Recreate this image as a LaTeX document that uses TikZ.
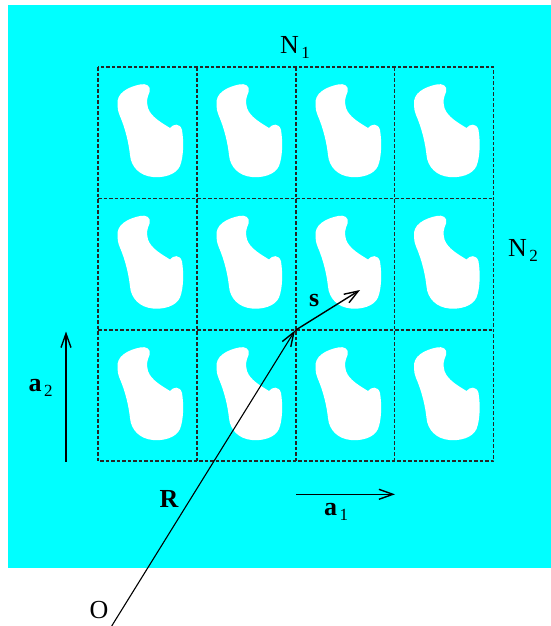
\documentclass[tikz,border=0pt]{standalone}
\usepackage{fontspec}
\setmainfont{Liberation Serif}
\usetikzlibrary{arrows.meta}
\definecolor{bgcyan}{HTML}{00FFFF}
\newcommand\mainsz{\fontsize{26}{30}\selectfont}
\newcommand\subsz{\fontsize{17}{20}\selectfont}
\newcommand\lblsub[1]{\hspace{2.5pt}\raisebox{-5pt}{\subsz #1}}
\begin{document}
\begin{tikzpicture}[x=1pt,y=-1pt,
  gridline/.style={dash pattern=on 3.5pt off 2pt, line width=1.1pt, black!85},
  vecarrow/.style={-{Straight Barb[length=14pt,width=10pt,line width=1.4pt]}, line width=1.4pt},
  lbl/.style={anchor=base west, inner sep=0pt, font=\mainsz},
  blob/.style={fill=white}]
\useasboundingbox (0,0) rectangle (551,626);
\fill[bgcyan] (7.5,5) rectangle (551,568);
% blobs
\foreach \cx in {98,197,296,394.5}{
  \foreach \cy in {67,198.5,330}{
    \fill[blob, shift={(\cx,\cy)}]
      (19.5,38) .. controls (18,26) and (30,20) .. (42,17.5)
      .. controls (48,16) and (53.5,19) .. (51.5,25)
      .. controls (49.5,30) and (48,34) .. (50,41)
      .. controls (53,50) and (64,56) .. (72,61)
      .. controls (75,57) and (82,55.5) .. (84,63)
      .. controls (86,75) and (85.5,90) .. (82,99)
      .. controls (78,108) and (65,111) .. (55,110)
      .. controls (42,109) and (33,100) .. (32,88)
      .. controls (30,70) and (25,56) .. (21.5,48)
      .. controls (20,44) and (19.5,41) .. cycle;
  }
}
% grid
\draw[gridline] (98,67) rectangle (493.5,461);
\foreach \gx in {197,296,394.5}{\draw[gridline] (\gx,67) -- (\gx,461);}
\foreach \gy in {198.5,330}{\draw[gridline] (98,\gy) -- (493.5,\gy);}
% points
\coordinate (O) at (111.7,626);
\coordinate (P) at (295,330.5);
\coordinate (S) at (360,290);
\coordinate (a1s) at (296,494.3);
\coordinate (a1e) at (395,494.3);
\coordinate (a2s) at (66,461.5);
\coordinate (a2e) at (66,331.5);
% arrows
\draw[vecarrow, line width=1.1pt] (O) -- (P);
\draw[vecarrow] (P) -- (S);
\draw[vecarrow] (a1s) -- (a1e);
\draw[vecarrow] (a2s) -- (a2e);
% labels
\node[lbl] (n1) at (280,53.3) {N\lblsub{1}};
\node[lbl] (n2) at (508,256.7) {N\lblsub{2}};
\node[lbl] (la2) at (28.3,391.7) {\textbf{a}\lblsub{2}};
\node[lbl] (la1) at (324,515) {\textbf{a}\lblsub{1}};
\node[lbl] (lR) at (159.3,507.3) {\textbf{R}};
\node[lbl] (ls) at (309,306.7) {\textbf{s}};
\node[lbl] (lO) at (89.3,618.3) {O};
\end{tikzpicture}
\end{document}
